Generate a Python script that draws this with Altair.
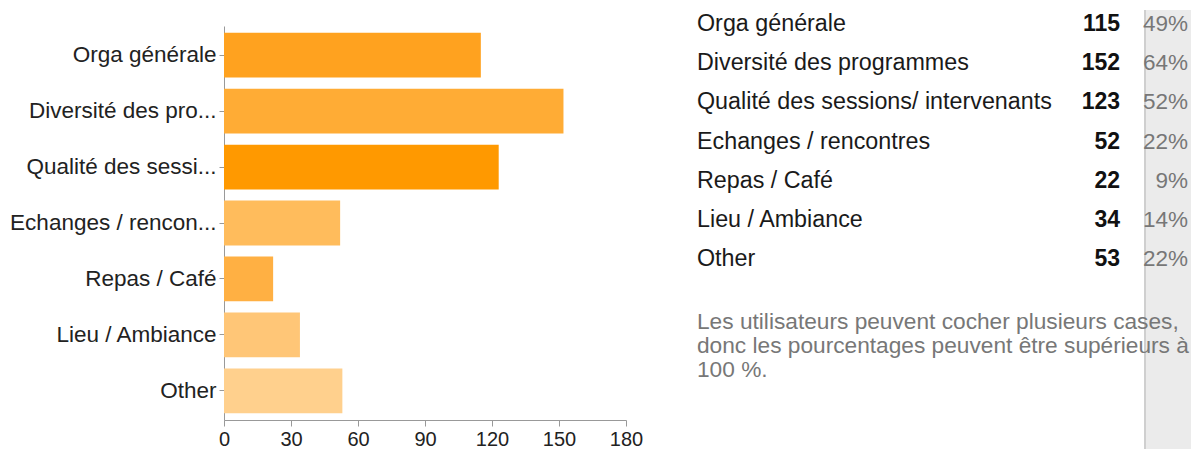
import altair as alt
import pandas as pd

labels = ["Orga générale", "Diversité des programmes", "Qualité des sessions/ intervenants",
          "Echanges / rencontres", "Repas / Café", "Lieu / Ambiance", "Other"]
short_labels = ["Orga générale", "Diversité des pro...", "Qualité des sessi...",
                "Echanges / rencon...", "Repas / Café", "Lieu / Ambiance", "Other"]
counts = [115, 152, 123, 52, 22, 34, 53]
percents = [49, 64, 52, 22, 9, 14, 22]
colors = ["#FFA21F", "#FFAC35", "#FF9900", "#FFBC5C", "#FFB043", "#FFC677", "#FFD08D"]
x_ticks = [0, 30, 60, 90, 120, 150, 180]
note_lines = ["Les utilisateurs peuvent cocher plusieurs cases,",
              "donc les pourcentages peuvent être supérieurs à",
              "100 %."]

FONT = "Liberation Sans"

df = pd.DataFrame({
    "label": labels,
    "short": short_labels,
    "count": counts,
    "pct": [f"{p}%" for p in percents],
    "color": colors,
})
notes = pd.DataFrame({"line": note_lines, "i": list(range(len(note_lines)))})
one = pd.DataFrame({"a": [0]})

bg = alt.Chart(one).mark_rect(color="#EBEBEB").encode(
    x=alt.value(922), x2=alt.value(980), y=alt.value(-16), y2=alt.value(445)
)
bg_line = alt.Chart(one).mark_rule(color="#CFCFCF", strokeWidth=2).encode(
    x=alt.value(921), y=alt.value(-16), y2=alt.value(445)
)

bars = alt.Chart(df).mark_bar().encode(
    y=alt.Y("short:N", sort=short_labels, title=None,
            scale=alt.Scale(paddingInner=0.2, paddingOuter=0.12),
            axis=alt.Axis(labelFont=FONT, labelFontSize=22.5, labelColor="#222222",
                          tickColor="#999999", domainColor="#999999", tickSize=5,
                          labelPadding=3, labelLimit=400, grid=False)),
    x=alt.X("count:Q", title=None,
            scale=alt.Scale(domain=[0, 180], nice=False),
            axis=alt.Axis(values=x_ticks, labelFont=FONT, labelFontSize=20,
                          labelColor="#222222", tickColor="#999999",
                          domainColor="#999999", tickSize=6, labelPadding=3,
                          grid=False, labelFlush=False)),
    color=alt.Color("color:N", scale=None),
)

ty = alt.Y("label:N", sort=labels, axis=None,
           scale=alt.Scale(type="point", range=[-2, 233], padding=0))

t_labels = alt.Chart(df).mark_text(align="left", baseline="middle", font=FONT,
                                   fontSize=23.3, color="#1a1a1a").encode(
    y=ty, text="label:N", x=alt.value(473))
t_counts = alt.Chart(df).mark_text(align="right", baseline="middle", font=FONT,
                                   fontSize=23, fontWeight="bold", color="#111111").encode(
    y=ty, text="count:Q", x=alt.value(896))
t_pcts = alt.Chart(df).mark_text(align="right", baseline="middle", font=FONT,
                                 fontSize=22.5, color="#777777").encode(
    y=ty, text="pct:N", x=alt.value(964))

t_notes = alt.Chart(notes).mark_text(align="left", baseline="middle", font=FONT,
                                     fontSize=22.7, color="#777777").encode(
    y=alt.Y("i:O", axis=None,
            scale=alt.Scale(type="point", range=[296, 344], padding=0)),
    text="line:N", x=alt.value(473))

chart = alt.layer(bg, bg_line, bars, t_labels, t_counts, t_pcts, t_notes).resolve_scale(
    y="independent"
).properties(
    width=402, height=394,
    autosize=alt.AutoSizeParams(type="none"),
    padding={"left": 216, "top": 18, "right": 565, "bottom": 29},
    background="white",
).configure_view(stroke=None)

chart.save("out.html", embed_options={"renderer": "svg", "actions": False})
